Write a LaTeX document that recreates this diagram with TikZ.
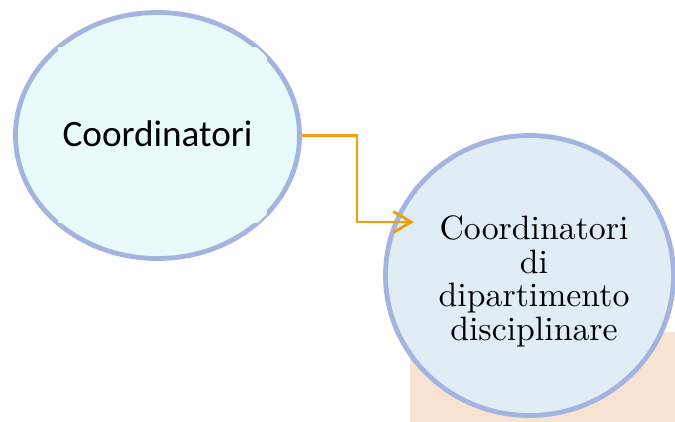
\documentclass[tikz,border=0pt]{standalone}
\usepackage{fontspec}
\newfontfamily\calibri{Carlito}
\usetikzlibrary{shapes.geometric,arrows.meta}
\definecolor{leftfill}{HTML}{E8FAFA}
\definecolor{rightfill}{HTML}{E0EDF4}
\definecolor{ringblue}{HTML}{A4B4E0}
\definecolor{peach}{HTML}{F8E2D2}
\definecolor{linkorange}{HTML}{F29D0C}
\tikzset{
  bubble/.style={ellipse, draw=ringblue, line width=4.8pt, inner sep=0pt},
  link/.style={draw=linkorange, line width=2.8pt,
    -{Straight Barb[length=18pt,width=21pt,line width=2.8pt]}},
}
\begin{document}
\begin{tikzpicture}[x=1pt,y=-1pt]
\useasboundingbox (0,0) rectangle (675,422);
\fill[white] (0,0) rectangle (675,422);

% backdrop behind the second bubble
\fill[peach] (410,332) rectangle (680,425);

% first bubble with its inner panel
\node[bubble, fill=leftfill, minimum width=284pt, minimum height=246pt]
  (coord) at (157.5,135.5) {};
\begin{scope}
  \clip (157.5,135.5) ellipse [x radius=142pt, y radius=123pt];
  \fill[leftfill] (58,47) rectangle (267,223);
\end{scope}
\node[anchor=base, inner sep=0pt, font=\calibri\fontsize{37.2}{40}\selectfont]
  (coordtxt) at (157.5,147) {Coordinatori};

% second bubble (10pt design size, enlarged)
\node[bubble, fill=rightfill, minimum width=288pt, minimum height=280pt]
  (dip) at (529.5,275.5) {};
\node[align=center, inner sep=0pt, scale=3.38, transform shape,
      font=\fontsize{10}{9.97}\selectfont]
  (diptxt) at (534,281.5) {Coordinatori\\di\\dipartimento\\disciplinare};

% elbow connector
\coordinate (bend) at (357,222);
\coordinate (tip) at (414,222);
\draw[link] (coord.east) -| (bend) -- (tip);
\end{tikzpicture}
\end{document}
